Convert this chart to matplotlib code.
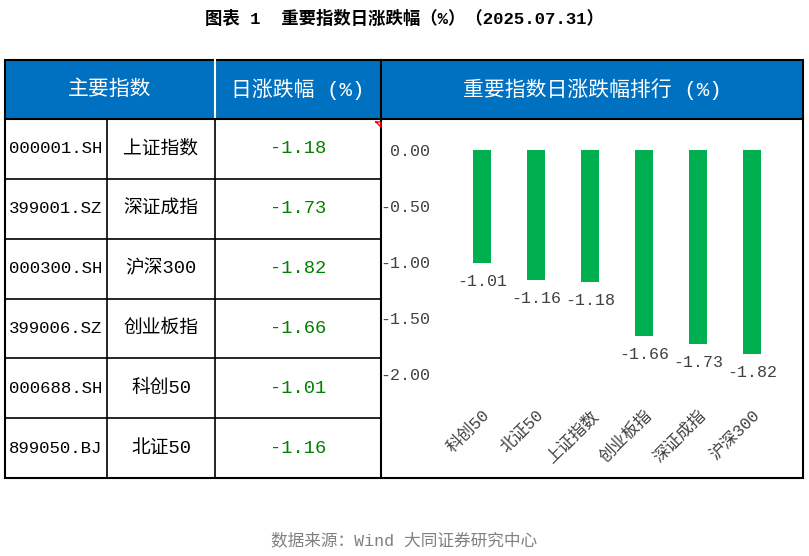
import matplotlib
matplotlib.use("Agg")
import matplotlib.pyplot as plt
from matplotlib.patches import Rectangle

plt.rcParams["font.family"] = ["Liberation Mono", "Noto Sans CJK SC"]

codes = ["000001.SH", "399001.SZ", "000300.SH", "399006.SZ", "000688.SH", "899050.BJ"]
names = ["上证指数", "深证成指", "沪深300", "创业板指", "科创50", "北证50"]
changes = [-1.18, -1.73, -1.82, -1.66, -1.01, -1.16]
rank_names = ["科创50", "北证50", "上证指数", "创业板指", "深证成指", "沪深300"]
rank_values = [-1.01, -1.16, -1.18, -1.66, -1.73, -1.82]
yticks = [0.0, -0.5, -1.0, -1.5, -2.0]

W, H = 809, 556
fig = plt.figure(figsize=(W / 100, H / 100), dpi=100)
ov = fig.add_axes([0, 0, 1, 1])
ov.set_xlim(0, W); ov.set_ylim(H, 0); ov.axis("off")

blue = "#0070C0"
green_txt = "#008000"
ov.text(W / 2, 18, "图表 1  重要指数日涨跌幅（%）（2025.07.31）", ha="center", va="center",
        fontsize=12.5, fontweight="bold")

top, hdr, bot = 60, 119, 478
x0, x1, x2, x3, x4 = 5, 107, 215, 381, 803
ov.add_patch(Rectangle((x0, top), x4 - x0, hdr - top, facecolor=blue, edgecolor="none"))
ov.add_patch(Rectangle((x0, top), x4 - x0, bot - top, facecolor="none", edgecolor="black", lw=1.5))
ov.plot([x2, x2], [top, hdr], color="white", lw=1.5)
ov.plot([x3, x3], [top, bot], color="black", lw=1.5)
ov.plot([x0, x4], [hdr, hdr], color="black", lw=1.5)
ov.text((x0 + x2) / 2, (top + hdr) / 2, "主要指数", color="white", fontsize=15, ha="center", va="center")
ov.text((x2 + x3) / 2, (top + hdr) / 2, "日涨跌幅 (%)", color="white", fontsize=15, ha="center", va="center")
ov.text((x3 + x4) / 2, (top + hdr) / 2, "重要指数日涨跌幅排行 (%)", color="white", fontsize=15, ha="center", va="center")

rh = (bot - hdr) / 6
for i, (c, n, v) in enumerate(zip(codes, names, changes)):
    y = hdr + i * rh
    if i > 0:
        ov.plot([x0, x3], [y, y], color="black", lw=1.2)
    yc = y + rh / 2
    ov.text((x0 + x1) / 2, yc, c, fontsize=12.5, ha="center", va="center")
    ov.text((x1 + x2) / 2, yc, n, fontsize=13.5, ha="center", va="center")
    ov.text((x2 + x3) / 2, yc, f"{v:.2f}", fontsize=13.5, ha="center", va="center", color=green_txt)
for x in (x1, x2):
    ov.plot([x, x], [hdr, bot], color="black", lw=1.2)
ov.plot([376, 381, 381, 376], [122, 122, 127, 122], color="red", lw=1)

axl, axr, ayt, ayb = 455, 779, 150, 374
ax = fig.add_axes([axl / W, 1 - ayb / H, (axr - axl) / W, (ayb - ayt) / H])
xs = list(range(len(rank_values)))
ax.bar(xs, rank_values, width=0.33, color="#00B050")
ax.set_xlim(-0.5, 5.5); ax.set_ylim(-2.0, 0.0)
for s in ax.spines.values():
    s.set_visible(False)
ax.set_yticks(yticks)
ax.set_yticklabels([f"{t:.2f}" for t in yticks], fontsize=12, color="#404040")
ax.tick_params(length=0, pad=18)
ax.set_xticks(xs)
ax.set_xticklabels(rank_names, rotation=45, ha="right", va="top", fontsize=12, color="#404040",
                   rotation_mode="anchor")
ax.tick_params(axis="x", pad=24)
for x, v in zip(xs, rank_values):
    ax.text(x, v - 0.1, f"{v:.2f}", ha="center", va="top", fontsize=12, color="#404040", clip_on=False)
ax.patch.set_alpha(0)

ov.text(W / 2, 540, "数据来源：Wind 大同证券研究中心", ha="center", va="center", fontsize=12, color="#808080")
fig.savefig("out.png", dpi=100)
